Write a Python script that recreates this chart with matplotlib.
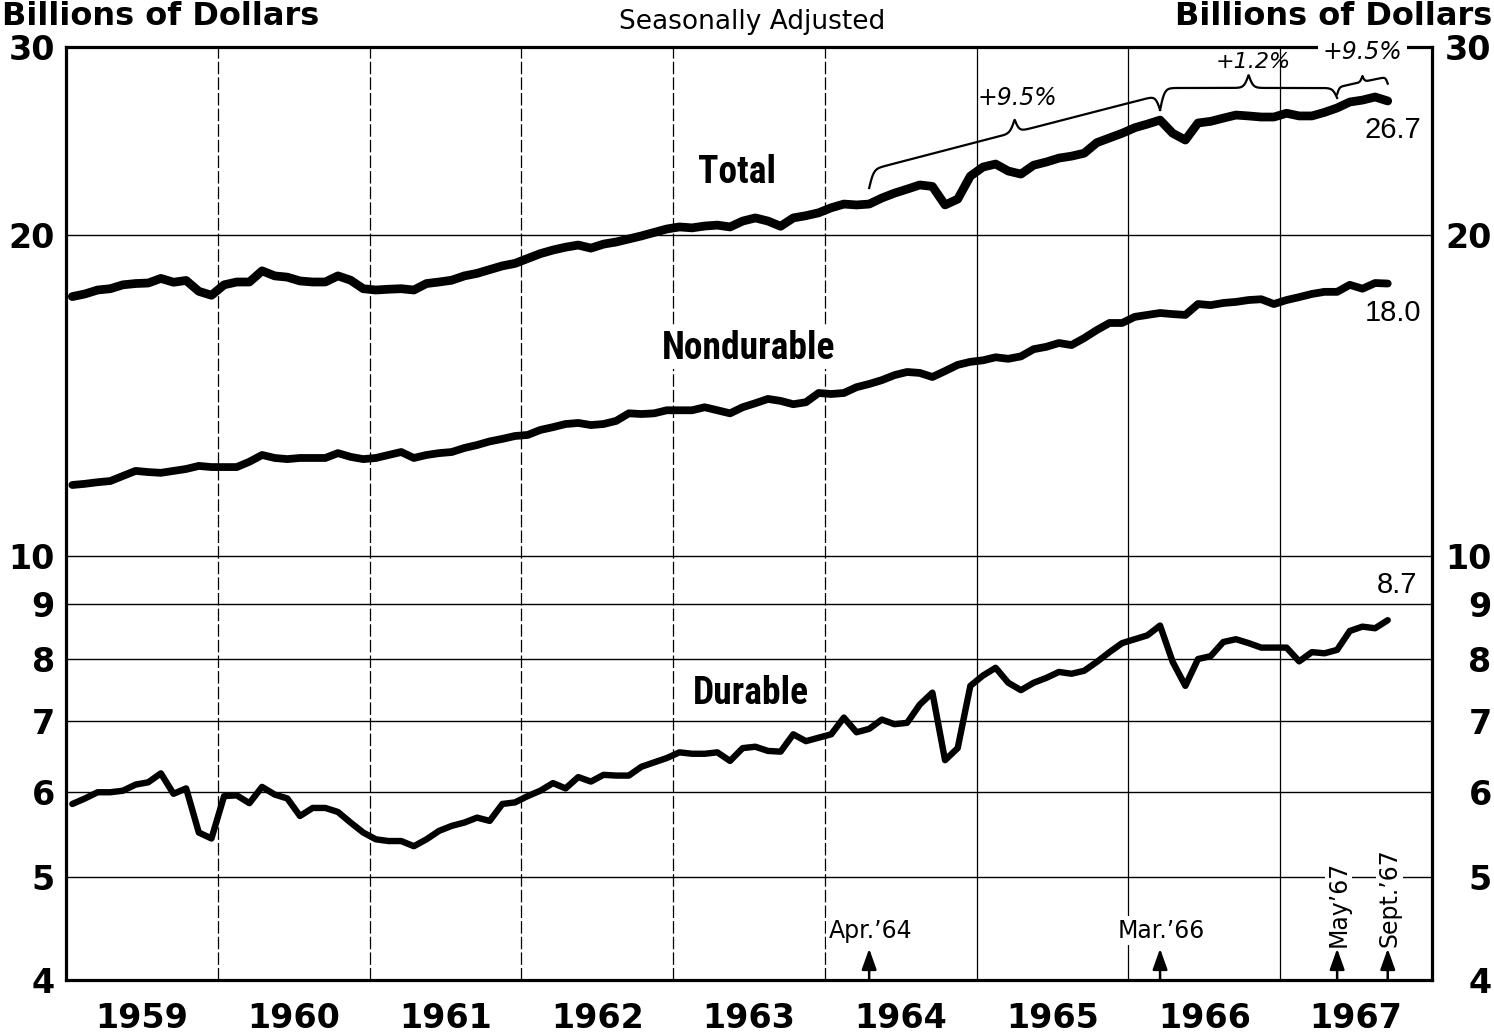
import numpy as np
import matplotlib
matplotlib.use("Agg")
import matplotlib.pyplot as plt
from matplotlib.ticker import NullLocator

# ---------------- data (monthly, Jan 1959 - Sept 1967, billions of dollars) ----------------
start_year = 1959
total = [17.5, 17.6, 17.75, 17.8, 17.95, 18.0, 18.02, 18.2, 18.05, 18.12, 17.7, 17.55,
         17.95, 18.06, 18.06, 18.5, 18.3, 18.25, 18.1, 18.06, 18.06, 18.3, 18.13, 17.8,
         17.75, 17.78, 17.8, 17.75, 18.0, 18.06, 18.13, 18.3, 18.4, 18.55, 18.7, 18.8,
         19.0, 19.2, 19.35, 19.47, 19.56, 19.43, 19.6, 19.69, 19.82, 19.95, 20.1, 20.25,
         20.34, 20.3, 20.38, 20.42, 20.34, 20.6, 20.74, 20.6, 20.37, 20.74, 20.84, 20.97,
         21.2, 21.37, 21.33, 21.37, 21.65, 21.88, 22.07, 22.27, 22.2, 21.33, 21.6, 22.7,
         23.15, 23.3, 22.95, 22.8, 23.24, 23.4, 23.6, 23.7, 23.85, 24.4, 24.65, 24.9,
         25.2, 25.4, 25.62, 24.9, 24.54, 25.46, 25.55, 25.73, 25.9, 25.85, 25.79, 25.79,
         26.0, 25.85, 25.85, 26.05, 26.3, 26.64, 26.75, 26.93, 26.7]
nondurable = [11.65, 11.68, 11.72, 11.75, 11.88, 12.01, 11.98, 11.96, 12.01, 12.06, 12.14, 12.11,
              12.11, 12.11, 12.25, 12.43, 12.35, 12.32, 12.35, 12.35, 12.35, 12.48, 12.38, 12.32,
              12.35, 12.43, 12.51, 12.35, 12.43, 12.48, 12.51, 12.62, 12.7, 12.8, 12.87, 12.95,
              12.98, 13.12, 13.2, 13.29, 13.32, 13.26, 13.29, 13.38, 13.6, 13.58, 13.6, 13.69,
              13.69, 13.69, 13.78, 13.69, 13.6, 13.78, 13.9, 14.03, 13.97, 13.87, 13.93, 14.21,
              14.18, 14.21, 14.39, 14.49, 14.61, 14.77, 14.87, 14.84, 14.71, 14.9, 15.1, 15.2,
              15.25, 15.35, 15.3, 15.38, 15.62, 15.7, 15.83, 15.76, 16.0, 16.28, 16.53, 16.53,
              16.75, 16.82, 16.89, 16.85, 16.82, 17.22, 17.18, 17.26, 17.3, 17.37, 17.4, 17.22,
              17.37, 17.48, 17.6, 17.68, 17.68, 17.95, 17.8, 18.02, 18.0]
durable = [5.85, 5.92, 6.0, 6.0, 6.02, 6.1, 6.13, 6.25, 5.98, 6.05, 5.5, 5.43,
           5.95, 5.96, 5.86, 6.07, 5.97, 5.92, 5.7, 5.8, 5.8, 5.75, 5.62, 5.5,
           5.42, 5.4, 5.4, 5.34, 5.42, 5.52, 5.58, 5.62, 5.68, 5.64, 5.85, 5.87,
           5.95, 6.02, 6.12, 6.05, 6.2, 6.14, 6.23, 6.22, 6.22, 6.34, 6.4, 6.46,
           6.54, 6.52, 6.52, 6.54, 6.42, 6.6, 6.62, 6.56, 6.55, 6.8, 6.7, 6.75,
           6.8, 7.05, 6.83, 6.88, 7.02, 6.95, 6.97, 7.25, 7.44, 6.43, 6.6, 7.55,
           7.72, 7.85, 7.6, 7.48, 7.6, 7.68, 7.78, 7.75, 7.8, 7.95, 8.12, 8.28,
           8.35, 8.42, 8.6, 7.95, 7.55, 8.0, 8.05, 8.3, 8.35, 8.28, 8.2, 8.2,
           8.2, 7.96, 8.12, 8.1, 8.16, 8.5, 8.58, 8.55, 8.7]

series_names = ["Total", "Nondurable", "Durable"]
end_labels = ["26.7", "18.0", "8.7"]
year_labels = ["1959", "1960", "1961", "1962", "1963", "1964", "1965", "1966", "1967"]
ytick_values = [4, 5, 6, 7, 8, 9, 10, 20, 30]
ytick_labels = ["4", "5", "6", "7", "8", "9", "10", "20", "30"]
event_months = [63, 86, 100, 104]          # month index from Jan 1959
event_labels = ["Apr.\u201964", "Mar.\u201966", "May\u201967", "Sept.\u201967"]
change_labels = ["+9.5%", "+1.2%", "+9.5%"]

# ---------------- figure ----------------
W, H = 1494, 1035
fig = plt.figure(figsize=(W / 100, H / 100), dpi=100)
ax = fig.add_axes([66 / W, 55 / H, 1366 / W, 933 / H])
ax.set_yscale("log")
ax.set_ylim(4, 30)
ax.set_xlim(1959, 1968)

x = start_year + (np.arange(len(total)) + 0.5) / 12.0

# grid
for v in [5, 6, 7, 8, 9, 10, 20]:
    ax.axhline(v, color="black", lw=1.0, zorder=1)
for yr in range(1960, 1968):
    ls = (0, (10, 2.5)) if yr <= 1964 else "-"
    ax.axvline(yr, color="black", lw=0.9, ls=ls, zorder=1)

# series
ax.plot(x, total, color="black", lw=6.3, solid_joinstyle="round", solid_capstyle="round", zorder=3)
ax.plot(x, nondurable, color="black", lw=5.6, solid_joinstyle="round", solid_capstyle="round", zorder=3)
ax.plot(x, durable, color="black", lw=4.6, solid_joinstyle="round", solid_capstyle="round", zorder=3)

# spines
for s in ax.spines.values():
    s.set_linewidth(2.3)

# ticks
ax.set_yticks(ytick_values)
ax.set_yticklabels(ytick_labels)
ax.yaxis.set_minor_locator(NullLocator())
ax.tick_params(axis="y", which="both", length=0, pad=8, labelsize=24)
for t in ax.get_yticklabels():
    t.set_fontweight("bold")
ax.set_xticks([start_year + i + 0.5 for i in range(len(year_labels))])
ax.set_xticklabels(year_labels)
ax.tick_params(axis="x", length=0, pad=16, labelsize=24)
for t in ax.get_xticklabels():
    t.set_fontweight("bold")

ax2 = ax.twinx()
ax2.set_yscale("log")
ax2.set_ylim(4, 30)
ax2.set_yticks(ytick_values)
ax2.set_yticklabels(ytick_labels)
ax2.yaxis.set_minor_locator(NullLocator())
ax2.tick_params(axis="y", which="both", length=0, pad=43, labelsize=24)
for t in ax2.get_yticklabels():
    t.set_horizontalalignment("right")
    t.set_fontweight("bold")
for s in ax2.spines.values():
    s.set_visible(False)

# header texts
fig.text(2 / W, 1 - 25 / H, "Billions of Dollars", fontsize=23, fontweight="bold",
         ha="left", va="baseline")
fig.text(1492 / W, 1 - 25 / H, "Billions of Dollars", fontsize=23, fontweight="bold",
         ha="right", va="baseline")
fig.text(752 / W, 1 - 22 / H, "Seasonally Adjusted", fontsize=19, ha="center", va="center")

# series labels (condensed bold)
narrow = ["DejaVu Sans Condensed", "Roboto Condensed", "Liberation Sans Narrow", "DejaVu Sans"]
white = dict(facecolor="white", edgecolor="none", pad=2)
lab_kw = dict(fontsize=27, fontweight="bold", family=narrow, fontstretch="condensed",
              ha="center", va="center", zorder=5)
ax.text(1963.42, 22.9, series_names[0], **lab_kw)
ax.text(1963.5, 15.65, series_names[1], bbox=white, **lab_kw)
ax.text(1963.51, 7.43, series_names[2], **lab_kw)

# end values
val_kw = dict(fontsize=21, family=["Liberation Sans", "DejaVu Sans"], ha="center", va="center")
ax.text(1967.74, 25.08, end_labels[0], **val_kw)
ax.text(1967.74, 16.88, end_labels[1], **val_kw)
ax.text(1967.77, 9.39, end_labels[2], **val_kw)

# event arrows and labels
ex = [start_year + (m + 0.5) / 12.0 for m in event_months]
for xe in ex:
    ax.annotate("", xy=(xe, 4.28), xytext=(xe, 4.0),
                arrowprops=dict(arrowstyle="-|>,head_length=0.7,head_width=0.25",
                                color="black", lw=1.8, shrinkA=0, shrinkB=0,
                                mutation_scale=18), zorder=4)
ax.text(ex[0] + 0.01, 4.45, event_labels[0], fontsize=17, ha="center", va="center",
        bbox=white, zorder=5)
ax.text(ex[1] + 0.01, 4.45, event_labels[1], fontsize=17, ha="center", va="center",
        bbox=white, zorder=5)
for xe, lab in zip(ex[2:], event_labels[2:]):
    ax.text(xe + 0.01, 4.30, lab, fontsize=17, rotation=90, rotation_mode="anchor",
            ha="left", va="center", bbox=dict(facecolor="white", edgecolor="none", pad=1),
            zorder=5)


# braces marking percent changes
def draw_brace(ax, xa, xb, va_, vb_, hook_a, hook_b, tip, hook_w=0.06, lw=1.6):
    u = np.linspace(0, 1, 800)
    L = xb - xa
    k = 4.0 * L / hook_w
    sig = lambda z: 1.0 / (1.0 + np.exp(-z))
    left = -hook_a * (2 - 2 * sig(k * u))
    right = -hook_b * (2 - 2 * sig(k * (1 - u)))
    mid = tip * (1 - np.abs(np.tanh(k * (u - 0.5) / 2)))
    la, lb = np.log10(va_), np.log10(vb_)
    lv = la + u * (lb - la) + left + right + mid
    ax.plot(xa + u * L, 10 ** lv, color="black", lw=lw, zorder=4, clip_on=False)


px = 1.0 / 1066.0  # one pixel in decades
draw_brace(ax, ex[0], ex[1], 23.0, 27.05, 18 * px, 15 * px, 13 * px)
draw_brace(ax, ex[1], ex[2], 27.46, 27.46, 22 * px, 10 * px, 13 * px)
draw_brace(ax, ex[2], ex[3], 27.5, 28.14, 7 * px, 7 * px, 6 * px, hook_w=0.03)

ax.text((ex[0] + ex[1]) / 2 + 0.02, 26.88, change_labels[0], fontsize=17, style="italic",
        ha="center", va="center", zorder=5)
ax.text((ex[1] + ex[2]) / 2 + 0.03, 29.04, change_labels[1], fontsize=16, style="italic",
        ha="center", va="center", zorder=5)
ax.text((ex[2] + ex[3]) / 2, 29.68, change_labels[2], fontsize=17, style="italic",
        ha="center", va="center", bbox=dict(facecolor="white", edgecolor="none", pad=3),
        zorder=5)

fig.savefig("out.png", dpi=100)
